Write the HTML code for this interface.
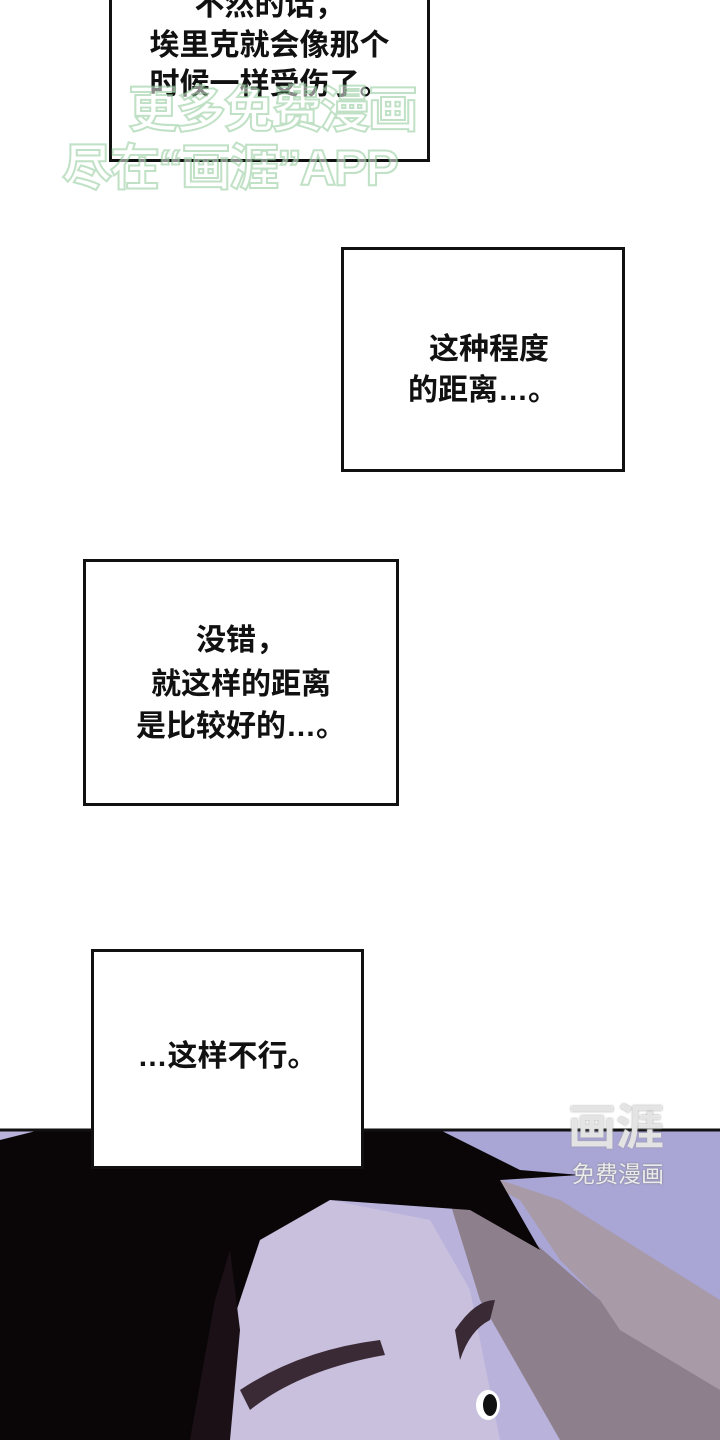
<!DOCTYPE html>
<html><head><meta charset="utf-8"><style>
body{margin:0;width:720px;height:1440px;background:#fff;position:relative;overflow:hidden;font-family:"Liberation Sans","Noto Sans CJK SC",sans-serif;}
.b{position:absolute;border:3px solid #111;background:#fff;box-sizing:border-box;color:#111;font-size:30px;line-height:42px;text-align:center;font-weight:bold;}
.t{position:absolute;left:0;right:0;}
.wm{position:absolute;color:rgba(255,255,255,0.5);font-weight:bold;font-size:50px;-webkit-text-stroke:2px rgba(140,200,150,0.55);letter-spacing:-2px;}
</style></head><body>
<svg style="position:absolute;left:0;top:1128px" width="720" height="312" viewBox="0 1128 720 312">
<rect x="0" y="1130" width="720" height="310" fill="#b9b3dc"/>
<polygon points="440,1130 720,1130 720,1440 560,1440 500,1300 430,1150" fill="#a9a6d6"/>
<polygon points="210,1240 330,1200 430,1220 470,1290 500,1440 150,1440" fill="#c9c0de"/>
<polygon points="440,1170 520,1230 600,1300 720,1380 720,1440 560,1440 480,1300" fill="#8e7f8c"/>
<polygon points="440,1160 520,1200 560,1260 600,1300 620,1330 720,1390 720,1300 640,1250 560,1200" fill="#a89aa6"/>
<polygon points="0,1140 40,1130 440,1130 520,1170 580,1175 500,1180 540,1250 470,1210 330,1200 260,1240 230,1330 200,1440 0,1440" fill="#0a0608"/>
<polygon points="230,1250 215,1300 190,1440 230,1440 240,1330" fill="#1a1016"/>
<path d="M240,1390 Q300,1350 380,1340 L385,1355 Q300,1370 250,1410 Z" fill="#3a2a36"/>
<path d="M455,1330 Q475,1300 495,1300 L490,1320 Q470,1330 460,1360 Z" fill="#3a2a36"/>
<ellipse cx="488" cy="1405" rx="12" ry="15" fill="#fff"/>
<ellipse cx="490" cy="1405" rx="7" ry="11" fill="#111"/>
<line x1="0" y1="1130" x2="720" y2="1130" stroke="#111" stroke-width="3"/>
</svg>
<div class="b" style="left:109px;top:-6px;width:321px;height:168px;">
<div class="t" style="top:-12px">不然的话，</div>
<div class="t" style="top:28px">埃里克就会像那个</div>
<div class="t" style="top:67px">时候一样受伤了。</div>
</div>
<div class="wm" style="left:128px;top:70px;">更多免费漫画</div>
<div class="wm" style="left:62px;top:128px;">尽在“画涯”APP</div>
<div class="b" style="left:341px;top:247px;width:284px;height:225px;">
<div class="t" style="top:79px;left:12px">这种程度</div>
<div class="t" style="top:120px">的距离…。</div>
</div>
<div class="b" style="left:83px;top:559px;width:316px;height:247px;">
<div class="t" style="top:58px">没错，</div>
<div class="t" style="top:102px">就这样的距离</div>
<div class="t" style="top:144px">是比较好的…。</div>
</div>
<div class="b" style="left:91px;top:949px;width:273px;height:220px;">
<div class="t" style="top:84px">…这样不行。</div>
</div>
<div style="position:absolute;left:568px;top:1088px;color:rgba(235,235,235,0.9);font-size:48px;font-weight:bold;text-shadow:0 0 2px #999;">画涯</div>
<div style="position:absolute;left:572px;top:1155px;color:rgba(240,240,240,0.95);font-size:23px;text-shadow:0 0 2px #777;">免费漫画</div>
</body></html>
